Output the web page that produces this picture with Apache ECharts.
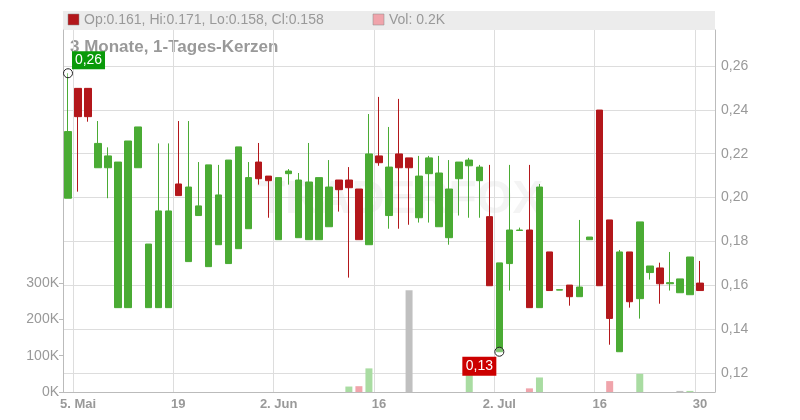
<!DOCTYPE html>
<html><head><meta charset="utf-8">
<script src="https://cdn.jsdelivr.net/npm/echarts@6/dist/echarts.min.js"></script>
<style>html,body{margin:0;padding:0;background:#fff}#c{width:800px;height:420px}</style>
</head><body><div id="c"></div>
<script>
// index -> trading day (0 = 2 May ... 63 = 30 Jul, 64 = 31 Jul empty)
const dayLabels = {1:'5. Mai',11:'19',21:'2. Jun',31:'16',43:'2. Jul',53:'16',63:'30'};
const dayCount = 65;
// [open, close, low, high]
const candles = [
[0.1997,0.2301,0.1997,0.2567],[0.2498,0.2369,0.2027,0.2498],[0.2498,0.2369,0.2346,0.2498],
[0.2136,0.2247,0.2136,0.2349],[0.2136,0.2190,0.1997,0.2229],[0.1498,0.2162,0.1498,0.2162],
[0.1498,0.2258,0.1498,0.2258],[0.2136,0.2322,0.2136,0.2322],[0.1498,0.1788,0.1498,0.1788],
[0.1498,0.1939,0.1498,0.2247],[0.1498,0.1939,0.1498,0.2247],[0.2062,0.2009,0.2009,0.2349],
[0.1708,0.2048,0.1708,0.2349],[0.1918,0.1962,0.1918,0.2162],[0.1685,0.2149,0.1685,0.2149],
[0.1785,0.2012,0.1785,0.2149],[0.1699,0.2171,0.1699,0.2171],[0.1767,0.2231,0.1767,0.2231],
[0.1858,0.2091,0.1858,0.2162],[0.2162,0.2086,0.2059,0.2249],[0.2098,0.2077,0.1908,0.2098],
[0.1808,0.2091,0.1808,0.2091],[0.2109,0.2121,0.2059,0.2130],[0.1817,0.2080,0.1817,0.2112],
[0.1808,0.2071,0.1808,0.2249],[0.1808,0.2091,0.1808,0.2091],[0.1867,0.2048,0.1867,0.2171],
[0.2080,0.2036,0.1936,0.2080],[0.2080,0.2045,0.1635,0.2139],[0.2039,0.1808,0.1808,0.2039],
[0.1785,0.2199,0.1785,0.2381],[0.2190,0.2159,0.2145,0.2459],[0.1918,0.2139,0.1858,0.2322],
[0.2199,0.2136,0.1858,0.2450],[0.2181,0.2136,0.1876,0.2181],[0.1908,0.2098,0.1886,0.2190],
[0.2109,0.2181,0.1886,0.2190],[0.1867,0.2112,0.1867,0.2190],[0.1817,0.2039,0.1785,0.2171],
[0.2086,0.2162,0.1918,0.2162],[0.2145,0.2171,0.1908,0.2181],[0.2077,0.2139,0.1908,0.2149],
[0.1913,0.1598,0.1598,0.2149],[0.1297,0.1702,0.1297,0.1702],[0.1699,0.1852,0.1576,0.2149],
[0.1850,0.1852,0.1849,0.1863],[0.1852,0.1498,0.1498,0.2149],[0.1498,0.2048,0.1498,0.2062],
[0.1752,0.1576,0.1576,0.1752],[0.1578,0.1580,0.1578,0.1580],[0.1601,0.1548,0.1507,0.1601],
[0.1548,0.1592,0.1548,0.1898],[0.1808,0.1820,0.1808,0.1820],[0.2399,0.1598,0.1598,0.2399],
[0.1898,0.1449,0.1329,0.1898],[0.1297,0.1752,0.1297,0.1761],[0.1752,0.1525,0.1498,0.1752],
[0.1539,0.1889,0.1448,0.1889],[0.1658,0.1688,0.1626,0.1688],[0.1679,0.1607,0.1516,0.1703],
[0.1607,0.1612,0.1576,0.1752],[0.1566,0.1629,0.1566,0.1629],[0.1557,0.1729,0.1557,0.1729],
[0.1610,0.1576,0.1576,0.1711],'-'
];
// volume in K, kind: g=up, r=down, n=neutral
const volumes = {28:[15,'g'],29:[16,'r'],30:[65,'g'],34:[280,'n'],40:[51,'g'],46:[10,'r'],47:[40,'g'],54:[30,'r'],57:[50,'g'],61:[3,'n'],62:[3,'g']};
const priceTicks = [0.12,0.14,0.16,0.18,0.20,0.22,0.24,0.26];
const volTicks = [0,100,200,300];
const highMark = {idx:0, value:0.2567, label:'0,26'};
const lowMark = {idx:43, value:0.1297, label:'0,13'};

const cats = Array.from({length:dayCount},(_,i)=>String(i));
const volColors = {g:'#a9dca2', r:'#f0a4ab', n:'#c0c0c0'};
const volData = cats.map((_,i)=> volumes[i] ? {value:volumes[i][0], itemStyle:{color:volColors[volumes[i][1]]}} : '-');
const labelIdx = i => dayLabels[i] !== undefined;
const grey = '#999';
const font = 'Liberation Sans, Arial';

const baseGraphic = [
  {type:'rect',shape:{x:63,y:11,width:652,height:19},style:{fill:'#ececec'}},
  {type:'rect',shape:{x:68,y:14,width:11,height:11},style:{fill:'#b3171b',stroke:'#888',lineWidth:0.5}},
  {type:'text',x:84,y:20,style:{text:'Op:0.161, Hi:0.171, Lo:0.158, Cl:0.158',fill:'#999',font:'14px '+font,verticalAlign:'middle'}},
  {type:'rect',shape:{x:373,y:14,width:11,height:11},style:{fill:'#f0a4ab',stroke:'#888',lineWidth:0.5}},
  {type:'text',x:389,y:20,style:{text:'Vol: 0.2K',fill:'#999',font:'14px '+font,verticalAlign:'middle'}},
  {type:'text',x:70,y:47,style:{text:'3 Monate, 1-Tages-Kerzen',fill:'#999',font:'bold 17px '+font,verticalAlign:'middle'}},
  {type:'text',x:400,y:200,z:0,style:{text:'TRADERFOX',fill:'rgba(200,200,200,0.2)',font:'bold 46px '+font,align:'center',verticalAlign:'middle'}}
];

const chart = echarts.init(document.getElementById('c'));
const option = {
  animation:false,
  grid:[{left:63,right:85,top:66,height:307},{left:63,right:85,top:30,bottom:28},{left:63,right:85,top:283,bottom:28}],
  xAxis:[
    {type:'category',data:cats,gridIndex:0,show:false},
    {type:'category',data:cats,gridIndex:1,
     axisLine:{lineStyle:{color:'#bbb'}},
     axisTick:{interval:labelIdx,lineStyle:{color:'#bbb'},length:5},
     axisLabel:{interval:labelIdx,formatter:(v)=>dayLabels[+v]||'',color:grey,fontSize:13,fontWeight:'bold',fontFamily:font,margin:6},
     splitLine:{show:true,interval:labelIdx,lineStyle:{color:'#ddd'}}},
    {type:'category',data:cats,gridIndex:2,show:false}
  ],
  yAxis:[
    {type:'value',gridIndex:0,position:'right',min:priceTicks[0],max:priceTicks[priceTicks.length-1],interval:0.02,
     axisLine:{show:false},axisTick:{show:false},
     axisLabel:{formatter:v=>v.toFixed(2).replace('.',','),color:grey,fontSize:14,fontFamily:font,margin:6},
     splitLine:{lineStyle:{color:'#ddd'}}},
    {type:'value',gridIndex:1,min:0,max:1,axisLine:{show:true,lineStyle:{color:'#bbb'}},axisLabel:{show:false},axisTick:{show:false},splitLine:{show:false}},
    {type:'value',gridIndex:1,position:'right',min:0,max:1,axisLine:{show:true,lineStyle:{color:'#bbb'}},axisLabel:{show:false},axisTick:{show:false},splitLine:{show:false}},
    {type:'value',gridIndex:2,position:'left',min:0,max:300,interval:100,
     axisLine:{show:false},
     axisTick:{show:true,length:4,lineStyle:{color:'#bbb'}},
     axisLabel:{formatter:v=>v+'K',color:grey,fontSize:14,fontFamily:font,margin:4},
     splitLine:{show:false}}
  ],
  series:[
    {type:'bar',xAxisIndex:2,yAxisIndex:3,data:volData,barWidth:7,z:1},
    {type:'candlestick',xAxisIndex:0,yAxisIndex:0,data:candles,barWidth:7,z:3,
     itemStyle:{color:'#4aab34',color0:'#b3171b',borderColor:'#4aab34',borderColor0:'#b3171b',borderWidth:1}}
  ],
  graphic:baseGraphic
};
chart.setOption(option);
const hp = chart.convertToPixel({xAxisIndex:0,yAxisIndex:0},[highMark.idx,highMark.value]);
const lp = chart.convertToPixel({xAxisIndex:0,yAxisIndex:0},[lowMark.idx,lowMark.value]);
option.graphic = baseGraphic.concat([
  {type:'circle',shape:{cx:hp[0],cy:hp[1],r:4.5},style:{fill:'rgba(255,255,255,0.3)',stroke:'#222',lineWidth:1},z:10},
  {type:'rect',shape:{x:hp[0]+4,y:hp[1]-22,width:33,height:18},style:{fill:'#0a9a0a'},z:10},
  {type:'text',x:hp[0]+20.5,y:hp[1]-13,style:{text:highMark.label,fill:'#fff',font:'14px '+font,align:'center',verticalAlign:'middle'},z:11},
  {type:'circle',shape:{cx:lp[0],cy:lp[1],r:4.5},style:{fill:'rgba(255,255,255,0.3)',stroke:'#222',lineWidth:1},z:10},
  {type:'rect',shape:{x:lp[0]-37,y:lp[1]+5,width:34,height:19},style:{fill:'#cc0000'},z:10},
  {type:'text',x:lp[0]-20,y:lp[1]+14.5,style:{text:lowMark.label,fill:'#fff',font:'14px '+font,align:'center',verticalAlign:'middle'},z:11}
]);
chart.setOption(option, true);
</script></body></html>
